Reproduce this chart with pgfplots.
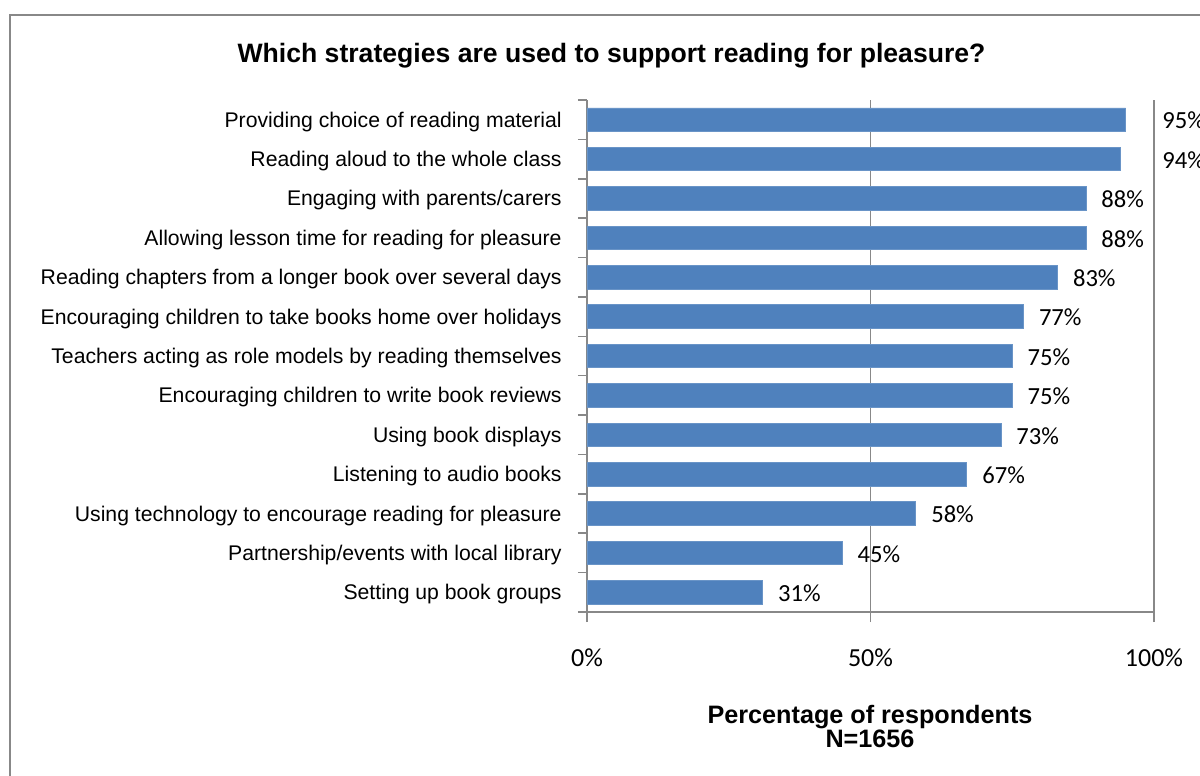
\documentclass[border=0pt]{standalone}
\usepackage{pgfplots}
\usepackage{pgfplotstable}
\pgfplotsset{compat=1.18}
\usepackage{fontspec}
\setmainfont{Liberation Sans}
\newfontfamily\carlito{Carlito}
\definecolor{barblue}{HTML}{4F81BD}
\definecolor{axgray}{HTML}{888888}

\pgfplotstableread{
y val lx
0 95 101.4
1 94 101.4
2 88 90.65
3 88 90.65
4 83 85.65
5 77 79.65
6 75 77.65
7 75 77.65
8 73 75.65
9 67 69.65
10 58 60.65
11 45 47.65
12 31 33.65
}\datatable

\begin{document}
\begin{tikzpicture}[x=1pt,y=1pt]
\useasboundingbox (0,0) rectangle (600,-388);
\draw[axgray, line width=1.4pt] (5,-395) -- (5,-7.5) -- (610,-7.5);
\node[font=\bfseries\fontsize{13.3}{16}\selectfont, anchor=base, inner sep=0pt] at (305.75,-31) {Which strategies are used to support reading for pleasure?};
\node[font=\bfseries\fontsize{12.6}{15}\selectfont, anchor=base, inner sep=0pt] at (435,-361.5) {Percentage of respondents};
\node[font=\bfseries\fontsize{12.6}{15}\selectfont, anchor=base, inner sep=0pt] at (435,-373.5) {N=1656};
\begin{axis}[
  at={(293.5pt,-306pt)}, anchor=south west,
  scale only axis, width=283.5pt, height=256pt,
  xmin=0, xmax=100, ymin=-0.5, ymax=12.5, y dir=reverse,
  enlargelimits=false, clip=false,
  axis x line*=bottom, axis y line*=left,
  axis line style={-, draw=axgray, line width=0.75pt},
  xtick={0,50,100}, xticklabels={0\%,50\%,100\%},
  ytick={0,...,12},
  yticklabels={Providing choice of reading material,
    Reading aloud to the whole class,
    Engaging with parents/carers,
    Allowing lesson time for reading for pleasure,
    Reading chapters from a longer book over several days,
    Encouraging children to take books home over holidays,
    Teachers acting as role models by reading themselves,
    Encouraging children to write book reviews,
    Using book displays,
    Listening to audio books,
    Using technology to encourage reading for pleasure,
    Partnership/events with local library,
    Setting up book groups},
  minor ytick={-0.5,0.5,...,12.5},
  tick align=outside,
  major tick length=5pt, minor tick length=4.5pt,
  tick style={draw=axgray, line width=0.75pt},
  every major y tick/.append style={draw=none},
  xmajorgrids, major grid style={draw=axgray, line width=0.75pt},
  xticklabel style={font=\carlito\fontsize{13}{15}\selectfont, inner sep=0pt, anchor=north, yshift=-13pt},
  yticklabel style={font=\fontsize{10.6}{12}\selectfont, inner sep=0pt, anchor=east, xshift=-7.5pt, yshift=-1pt},
]
\addplot[xbar, bar width=11.75pt, fill=barblue, draw=barblue!85!white, line width=0.4pt] table[x=val, y=y]{\datatable};
\addplot[only marks, mark=none, point meta=explicit,
  nodes near coords={\pgfmathprintnumber[assume math mode=true]{\pgfplotspointmeta}\%},
  every node near coord/.append style={anchor=west, inner sep=0pt, text=black, yshift=-0.5pt, font=\carlito\fontsize{12.3}{14}\selectfont}]
  table[x=lx, y=y, meta=val]{\datatable};
\end{axis}
\end{tikzpicture}
\end{document}
